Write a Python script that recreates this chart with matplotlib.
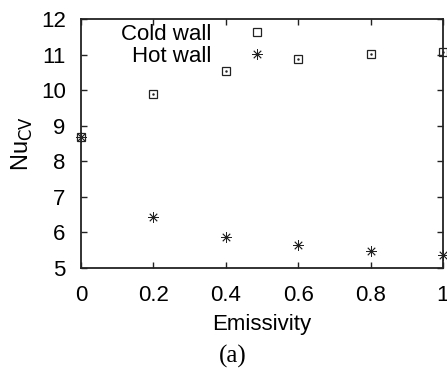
import matplotlib
matplotlib.use("Agg")
import matplotlib.pyplot as plt

emissivity = [0.0, 0.2, 0.4, 0.6, 0.8, 1.0]
nu_cold = [8.68, 9.89, 10.55, 10.87, 11.02, 11.06]
nu_hot = [8.68, 6.43, 5.88, 5.64, 5.49, 5.37]
xticks = [0, 0.2, 0.4, 0.6, 0.8, 1]
xticklabels = ["0", "0.2", "0.4", "0.6", "0.8", "1"]
yticks = [5, 6, 7, 8, 9, 10, 11, 12]

plt.rcParams["font.family"] = ["Liberation Sans", "DejaVu Sans"]
col = "#222222"

fig = plt.figure(figsize=(4.47, 3.70), dpi=100)
ax = fig.add_axes([0.181, 0.2757, 0.810, 0.673])

ax.plot(emissivity, nu_cold, ls="none", marker="s", ms=5.8, mfc="none",
        mec=col, mew=0.9, clip_on=False, label="Cold wall")
ax.plot(emissivity, nu_cold, ls="none", marker=".", ms=1.5, color=col, clip_on=False)
ax.plot(emissivity, nu_hot, ls="none", marker=(8, 2, 0), ms=7.5, mec=col,
        mew=0.6, clip_on=False, label="Hot wall")

ax.set_xlim(0, 1)
ax.set_ylim(5, 12)
ax.set_xticks(xticks)
ax.set_xticklabels(xticklabels)
ax.set_yticks(yticks)
ax.tick_params(direction="in", top=True, right=True, length=4, width=1,
               labelsize=16, colors=col, labelcolor="black")
ax.tick_params(axis="x", pad=12)
ax.tick_params(axis="y", pad=11)
for s in ax.spines.values():
    s.set_linewidth(1.3)
    s.set_color(col)

ax.set_xlabel("Emissivity", fontsize=16, labelpad=6)
ax.set_ylabel(r"Nu$_{\mathrm{CV}}$", fontsize=17, labelpad=4)

ax.legend(loc="upper left", bbox_to_anchor=(0.08, 1.025), frameon=False,
          markerfirst=False, fontsize=16, handlelength=1.0, handletextpad=1.55,
          labelspacing=0.05, borderpad=0)

fig.text(0.52, 0.02, "(a)", fontsize=18, family="Liberation Serif", ha="center")

fig.savefig("out.png", dpi=100)
